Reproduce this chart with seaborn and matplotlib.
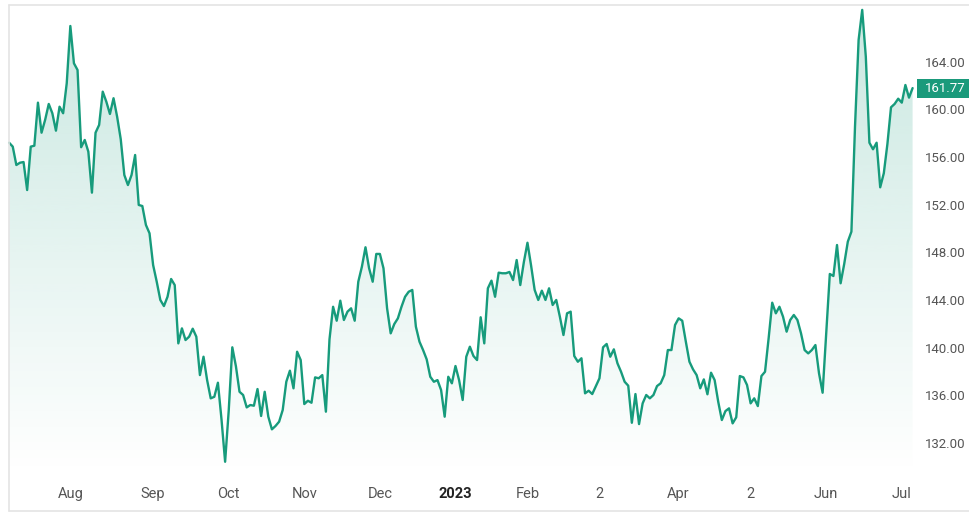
import numpy as np
import pandas as pd
import matplotlib
matplotlib.use("Agg")
import matplotlib.pyplot as plt
import matplotlib.transforms as mtransforms
from matplotlib.patches import Rectangle
from matplotlib.lines import Line2D
import seaborn as sns

# ---------------- data ----------------
holidays = ["2022-09-05", "2022-11-24", "2022-12-26", "2023-01-02", "2023-01-16",
            "2023-02-20", "2023-04-07", "2023-05-29", "2023-06-19", "2023-07-04"]
start_date = "2022-07-07"
end_date = "2023-07-07"

prices = [
    157.19, 156.86, 155.32, 155.51, 155.57, 153.22, 156.86, 156.94, 160.55, 158.03,
    159.11, 160.44, 159.66, 158.20, 160.21, 159.66, 162.18, 166.98, 163.85, 163.29,
    156.81, 157.42, 156.44, 153.00, 158.03, 158.68, 161.47, 160.63, 159.60, 160.92,
    159.37, 157.49, 154.48, 153.64, 154.48, 156.16, 151.97, 151.88, 150.29, 149.59,
    146.93, 145.53, 144.00, 143.49, 144.27, 145.76, 145.25, 140.36, 141.62, 140.64,
    140.92, 141.59, 140.92, 137.70, 139.24, 137.28, 135.75, 135.88, 137.06, 133.97,
    130.43, 134.71, 140.03, 138.44, 136.30, 136.03, 134.99, 135.19, 135.13, 136.53,
    134.27, 136.30, 134.21, 133.15, 133.43, 133.79, 134.77, 137.14, 138.07, 136.59,
    139.66, 138.96, 135.27, 135.55, 135.38, 137.51, 137.43, 137.70, 134.63, 140.70,
    143.43, 142.26, 143.94, 142.32, 143.02, 143.30, 142.26, 145.53, 146.79, 148.42,
    146.66, 145.53, 147.86, 147.86, 146.66, 143.30, 141.20, 141.98, 142.46, 143.43,
    144.27, 144.69, 144.84, 141.76, 140.50, 139.80, 139.02, 137.56, 137.14, 137.28,
    136.45, 134.21, 137.56, 137.01, 138.46, 137.28, 135.61, 139.24, 140.08, 139.30,
    138.96, 142.55, 140.36, 144.98, 145.62, 144.27, 146.29, 146.24, 146.24, 146.35,
    145.67, 147.35, 145.25, 147.18, 148.80, 146.90, 144.84, 144.00, 144.78, 144.00,
    144.98, 143.58, 144.00, 142.60, 141.06, 142.88, 143.02, 139.30, 138.82, 139.11,
    136.17, 136.39, 136.11, 136.76, 137.43, 140.03, 140.31, 139.24, 139.86, 138.69,
    137.98, 137.14, 136.81, 133.70, 136.11, 133.59, 135.33, 136.03, 135.75, 136.03,
    136.78, 137.01, 137.70, 139.80, 139.80, 141.90, 142.46, 142.26, 140.50, 138.82,
    138.18, 137.70, 136.59, 137.34, 136.09, 137.90, 137.28, 135.46, 133.93, 134.68,
    134.91, 133.65, 134.16, 137.62, 137.51, 136.87, 135.33, 135.75, 135.10, 137.62,
    137.98, 140.78, 143.77, 142.88, 143.43, 142.60, 141.34, 142.32, 142.74, 142.32,
    141.20, 139.80, 139.52, 139.80, 140.22, 137.85, 136.22, 141.26, 146.18, 146.01,
    148.61, 145.40, 147.02, 148.89, 149.73, 158.54, 165.81, 168.33, 164.41, 157.19,
    156.64, 157.19, 153.45, 154.63, 157.08, 160.16, 160.44, 160.88, 160.55, 162.03,
    160.97, 161.77,
]

tick_dates = ["2022-08-01", "2022-09-01", "2022-10-03", "2022-11-01", "2022-12-01",
              "2023-01-03", "2023-02-01", "2023-03-02", "2023-04-03", "2023-05-02",
              "2023-06-01", "2023-07-03"]
tick_labels = ["Aug", "Sep", "Oct", "Nov", "Dec", "2023", "Feb", "2",
               "Apr", "2", "Jun", "Jul"]
y_ticks = [132, 136, 140, 144, 148, 152, 156, 160, 164]
last_price = prices[-1]

# ---------------- build frame ----------------
dates = pd.bdate_range(start_date, end_date, freq="C", holidays=holidays)
n = min(len(dates), len(prices))
df = pd.DataFrame({"date": dates[:n], "price": prices[:n]})
df["pos"] = np.arange(n)
tick_pos = [int(np.searchsorted(df["date"].values, np.datetime64(d))) for d in tick_dates]

# ---------------- style ----------------
sns.set_theme(style="white")
plt.rcParams["font.family"] = ["Roboto", "DejaVu Sans"]

W, H = 969, 515
fig = plt.figure(figsize=(W / 100, H / 100), dpi=100)
left_px, right_px, top_px, bot_px = 9.15, 912.6, 5, 475
ax = fig.add_axes([left_px / W, 1 - bot_px / H, (right_px - left_px) / W, (bot_px - top_px) / H])

line_color = "#179b7c"
ymin, ymax = 129.32, 168.74

sns.lineplot(data=df, x="pos", y="price", ax=ax, color=line_color, linewidth=1.7,
             clip_on=False, zorder=3)

# gradient fill below the line
fill = ax.fill_between(df["pos"], df["price"], ymin, color="none", linewidth=0)
grad = np.zeros((256, 1, 4))
rgb = matplotlib.colors.to_rgb(line_color)
grad[:, 0, 0], grad[:, 0, 1], grad[:, 0, 2] = rgb
grad[:, 0, 3] = np.linspace(0.23, 0.0, 256)
im = ax.imshow(grad, extent=[0, n - 1, ymin, df["price"].max()], aspect="auto",
               origin="upper", zorder=2, interpolation="bicubic")
im.set_clip_path(fill.get_paths()[0], transform=ax.transData)

ax.set_xlim(0, n - 1)
ax.set_ylim(ymin, ymax)
for s in ax.spines.values():
    s.set_visible(False)

ax.set_xlabel("")
ax.set_ylabel("")
ax.set_xticks(tick_pos)
ax.set_xticklabels(tick_labels)
ax.tick_params(axis="x", length=0, pad=8.5, labelsize=10.5, labelcolor="#555555")
for lbl in ax.get_xticklabels():
    if lbl.get_text() == "2023":
        lbl.set_fontweight("bold")
        lbl.set_color("#222222")

ax.yaxis.tick_right()
ax.set_yticks(y_ticks)
ax.set_yticklabels([f"{v:.2f}" for v in y_ticks])
ax.tick_params(axis="y", length=0, pad=8.6, labelsize=9.5, labelcolor="#555555")
ax.grid(False)

# last price tag
trans = mtransforms.blended_transform_factory(fig.transFigure, ax.transData)
fig.add_artist(Rectangle((917 / W, last_price - 0.8), 60 / W, 1.6, transform=trans,
                         facecolor="#1a9a7b", edgecolor="none", zorder=5))
fig.text(925 / W, last_price, f"{last_price:.2f}", transform=trans, color="white",
         fontsize=9.5, ha="left", va="center", zorder=6)

# card border
bc = "#e4e4e4"
fig.add_artist(Line2D([9 / W, 1], [1 - 5 / H, 1 - 5 / H], color=bc, lw=1.2, transform=fig.transFigure))
fig.add_artist(Line2D([9 / W, 1], [1 - 511 / H, 1 - 511 / H], color=bc, lw=1.2, transform=fig.transFigure))
fig.add_artist(Line2D([9 / W, 9 / W], [1 - 5 / H, 1 - 511 / H], color=bc, lw=1.2, transform=fig.transFigure))

fig.savefig("out.png", dpi=100)
